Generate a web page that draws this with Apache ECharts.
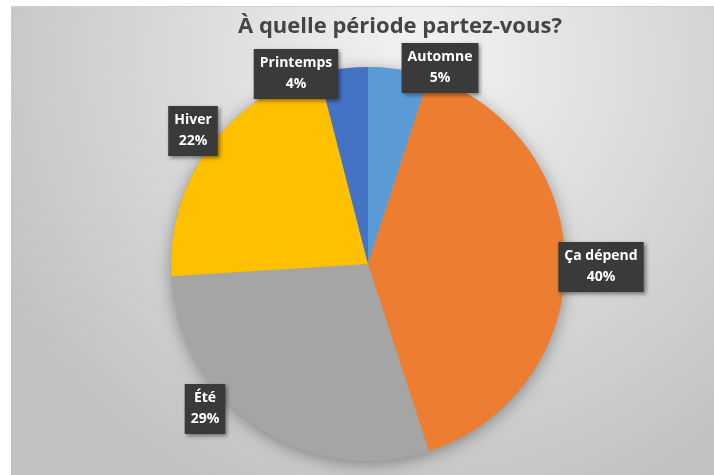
<!DOCTYPE html>
<html><head><meta charset="utf-8">
<script src="https://cdn.jsdelivr.net/npm/echarts@6/dist/echarts.min.js"></script>
<style>html,body{margin:0;padding:0;background:#fff}#c{width:714px;height:475px}</style>
</head><body><div id="c"></div>
<script>
const chartTitle = 'À quelle période partez-vous?';
const categories = ['Automne', 'Ça dépend', 'Été', 'Hiver', 'Printemps'];
const values = [5, 40, 29, 22, 4];
const colors = ['#5B9BD5', '#ED7D31', '#A5A5A5', '#FFC000', '#4472C4'];
// label box centres (px)
const labelPos = [[440, 68], [601, 267], [205, 409], [193, 131], [296, 74]];

const chart = echarts.init(document.getElementById('c'));
const FONT = 'Open Sans';
const pieCenter = [368, 264];
const pieRadius = 197;

chart.setOption({
  animation: false,
  graphic: [
    { type: 'rect', z: -10, shape: { x: 11, y: 6, width: 703, height: 469 },
      style: { fill: { type: 'radial', x: 0.58, y: 0.12, r: 1.0,
        colorStops: [{ offset: 0, color: '#f3f3f3' }, { offset: 1, color: '#c2c2c2' }] } } },
    { type: 'line', z: -9, shape: { x1: 11, y1: 6.5, x2: 714, y2: 6.5 }, style: { stroke: '#d0d0d0', lineWidth: 1 } }
  ],
  title: {
    text: chartTitle, left: 233, top: 11,
    textStyle: { fontFamily: FONT, fontSize: 22, fontWeight: 'bold', color: '#454545' }
  },
  series: [
    {
      type: 'pie', silent: true, z: 1, center: pieCenter, radius: pieRadius,
      label: { show: false }, labelLine: { show: false },
      itemStyle: { color: '#a0a0a0', shadowBlur: 16, shadowOffsetY: 3, shadowColor: 'rgba(0,0,0,0.35)' },
      data: [{ value: values.reduce((a, b) => a + b, 0), name: '' }]
    },
    {
      type: 'pie', z: 2, center: pieCenter, radius: pieRadius,
      startAngle: 90, clockwise: true, avoidLabelOverlap: false,
      itemStyle: { borderWidth: 0 },
      data: categories.map((c, i) => ({ name: c, value: values[i], itemStyle: { color: colors[i] } })),
      label: {
        show: true, position: 'outside',
        formatter: p => p.name + '\n' + Math.round(p.percent) + '%',
        fontFamily: FONT, fontSize: 14, fontWeight: 'bold', lineHeight: 21, color: '#ffffff',
        backgroundColor: '#3a3a3a', padding: [4, 6, 4, 6], align: 'center',
        shadowBlur: 4, shadowOffsetX: 2, shadowOffsetY: 2, shadowColor: 'rgba(0,0,0,0.45)'
      },
      labelLine: { show: false },
      labelLayout: p => {
        const q = labelPos[p.dataIndex];
        return { x: q[0], y: q[1], align: 'center', verticalAlign: 'middle' };
      }
    }
  ]
});
</script>
</body></html>
